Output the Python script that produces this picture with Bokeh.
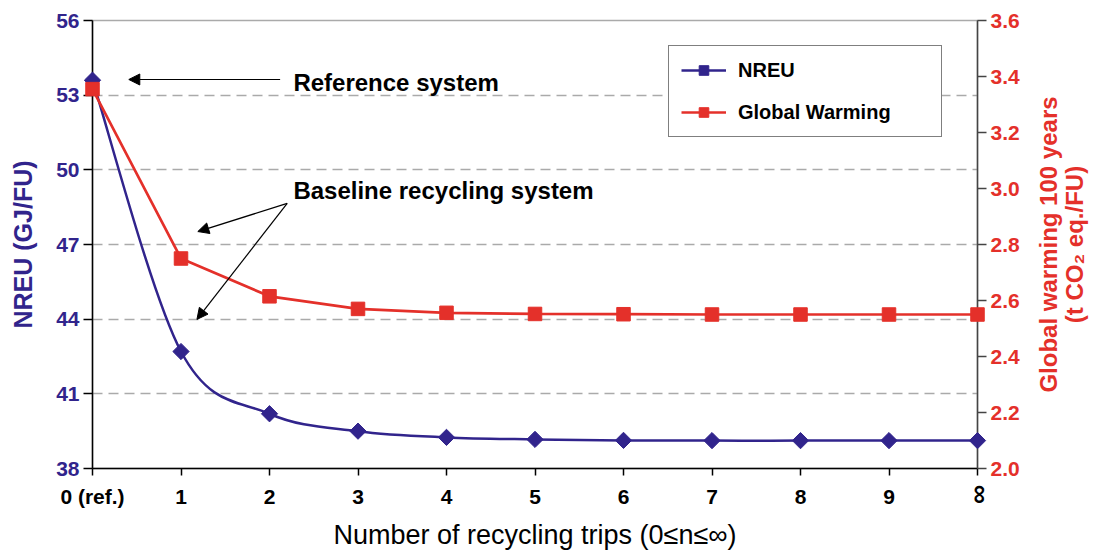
import math
from bokeh.plotting import figure
from bokeh.models import (Range1d, LinearAxis, FixedTicker, Legend, LegendItem,
                          Arrow, NormalHead, Label, NumeralTickFormatter)
from bokeh.core.properties import value
from bokeh.embed import file_html
from bokeh.resources import INLINE

# ---------------- data ----------------
trips = [0, 1, 2, 3, 4, 5, 6, 7, 8, 9, 10]
x_labels = ["0 (ref.)", "1", "2", "3", "4", "5", "6", "7", "8", "9", ""]
inf_label = "∞"
nreu = [53.6, 42.7, 40.2, 39.5, 39.25, 39.17, 39.13, 39.12, 39.12, 39.12, 39.12]
gw = [3.355, 2.75, 2.615, 2.57, 2.556, 2.552, 2.551, 2.55, 2.55, 2.55, 2.55]
left_ticks = [38, 41, 44, 47, 50, 53, 56]
grid_ticks = [41, 44, 47, 50, 53]
right_ticks = [2.0, 2.2, 2.4, 2.6, 2.8, 3.0, 3.2, 3.4, 3.6]
right_title = ["Global warming 100 years", "(t CO₂ eq./FU)"]

BLUE = "#31248c"
RED = "#e4302a"
FONT = "Liberation Sans"


def smooth_segments(xs, ys):
    """Bezier control points for a smoothed (Catmull-Rom style) line through the data."""
    n = len(xs)
    out = dict(x0=[], y0=[], x1=[], y1=[], cx0=[], cy0=[], cx1=[], cy1=[])
    for i in range(n - 1):
        xp, yp = (xs[i - 1], ys[i - 1]) if i > 0 else (xs[i], ys[i])
        xn, yn = (xs[i + 2], ys[i + 2]) if i + 2 < n else (xs[i + 1], ys[i + 1])
        out["x0"].append(xs[i]); out["y0"].append(ys[i])
        out["x1"].append(xs[i + 1]); out["y1"].append(ys[i + 1])
        out["cx0"].append(xs[i] + (xs[i + 1] - xp) / 6.0)
        out["cy0"].append(ys[i] + (ys[i + 1] - yp) / 6.0)
        out["cx1"].append(xs[i + 1] - (xn - xs[i]) / 6.0)
        out["cy1"].append(ys[i + 1] - (yn - ys[i]) / 6.0)
    return out


p = figure(frame_width=885, frame_height=448, output_backend="svg", toolbar_location=None,
           x_range=Range1d(0, 10), y_range=Range1d(38, 56),
           min_border_left=92, min_border_right=114, min_border_top=20, min_border_bottom=70)
p.extra_y_ranges = {"gw": Range1d(2.0, 3.6)}
p.background_fill_color = "white"
p.outline_line_color = "#aaaaaa"
p.outline_line_width = 1.5

# grid
p.xgrid.visible = False
p.ygrid.ticker = FixedTicker(ticks=grid_ticks)
p.ygrid.grid_line_color = "#aaaaaa"
p.ygrid.grid_line_width = 1.5
p.ygrid.grid_line_dash = "10 6"

# x axis
xa = p.xaxis[0]
xa.ticker = FixedTicker(ticks=trips)
xa.major_label_overrides = {t: l for t, l in zip(trips, x_labels)}
xa.axis_label = "Number of recycling trips (0≤n≤∞)"
xa.axis_label_text_font = FONT
xa.axis_label_text_font_style = "normal"
xa.axis_label_text_font_size = "27px"
xa.axis_label_text_color = "black"
xa.axis_label_standoff = 9
xa.major_label_text_font = FONT
xa.major_label_text_font_style = "bold"
xa.major_label_text_font_size = "21px"
xa.major_label_text_color = "black"
xa.major_label_standoff = 9
xa.major_tick_out = 7
xa.major_tick_in = 0
xa.minor_tick_line_color = None
xa.axis_line_width = 1.5
xa.major_tick_line_width = 1.5

# left axis
ya = p.yaxis[0]
ya.ticker = FixedTicker(ticks=left_ticks)
ya.axis_label = "NREU (GJ/FU)"
ya.axis_label_text_font = FONT
ya.axis_label_text_font_style = "bold"
ya.axis_label_text_font_size = "25px"
ya.axis_label_text_color = BLUE
ya.axis_label_standoff = 16
ya.major_label_text_font = FONT
ya.major_label_text_font_style = "bold"
ya.major_label_text_font_size = "21px"
ya.major_label_text_color = BLUE
ya.major_label_standoff = 4
ya.major_tick_out = 9
ya.major_tick_in = 0
ya.minor_tick_line_color = None
ya.axis_line_width = 1.5
ya.major_tick_line_width = 1.5

# right axis
ra = LinearAxis(y_range_name="gw", ticker=FixedTicker(ticks=right_ticks),
                formatter=NumeralTickFormatter(format="0.0"))
ra.major_label_text_font = FONT
ra.major_label_text_font_style = "bold"
ra.major_label_text_font_size = "21px"
ra.major_label_text_color = RED
ra.major_label_standoff = 4
ra.major_tick_out = 9
ra.major_tick_in = 0
ra.minor_tick_line_color = None
ra.axis_line_color = "#444444"
ra.axis_line_width = 1.5
ra.major_tick_line_color = "#444444"
ra.major_tick_line_width = 1.5
p.add_layout(ra, "right")

# right axis title (reads bottom-to-top, two lines) - drawn unclipped at overlay level
p.text(x=[10.80, 11.10], y=[47, 47], text=right_title, angle=math.pi / 2,
       text_align="center", text_baseline="middle", text_font=value(FONT),
       text_font_style="bold", text_font_size="24px", text_color=RED, level="overlay")

# rotated infinity tick label
p.text(x=[10], y=[36.96], text=[inf_label], angle=math.pi / 2, text_align="center",
       text_baseline="middle", text_font=value(FONT), text_font_style="bold",
       text_font_size="27px", text_color="black", level="overlay")

# series
sb = smooth_segments(trips, nreu)
nreu_line = p.bezier(x0=sb["x0"], y0=sb["y0"], x1=sb["x1"], y1=sb["y1"],
                     cx0=sb["cx0"], cy0=sb["cy0"], cx1=sb["cx1"], cy1=sb["cy1"],
                     line_color=BLUE, line_width=2.5)
nreu_pts = p.scatter(trips, nreu, marker="square", angle=math.pi / 4, size=11.5,
                     color=BLUE, level="overlay")

gw_line = p.line(trips, gw, line_color=RED, line_width=2.7, y_range_name="gw")
gw_pts = p.scatter(trips, gw, marker="square", size=13.5, color=RED, y_range_name="gw",
                   level="overlay")

# annotations
p.add_layout(Label(x=2.27, y=53.5, text="Reference system", text_font=FONT,
                   text_font_style="bold", text_font_size="24px", text_color="black",
                   text_baseline="middle"))
p.add_layout(Label(x=2.27, y=49.15, text="Baseline recycling system", text_font=FONT,
                   text_font_style="bold", text_font_size="24px", text_color="black",
                   text_baseline="middle"))
for (xs, ys, xe, ye) in [(2.12, 53.63, 0.41, 53.63),
                         (2.2, 48.65, 1.19, 47.52),
                         (2.2, 48.65, 1.18, 43.99)]:
    p.add_layout(Arrow(x_start=xs, y_start=ys, x_end=xe, y_end=ye,
                       line_color="black", line_width=1.2,
                       end=NormalHead(size=11, fill_color="black", line_color="black")))

# legend
legend = Legend(items=[LegendItem(label="NREU", renderers=[nreu_line, nreu_pts]),
                       LegendItem(label="Global Warming", renderers=[gw_line, gw_pts])],
                location=(576, 331), orientation="vertical",
                border_line_color="black", border_line_width=1.2,
                background_fill_color="white", background_fill_alpha=1.0,
                padding=12, spacing=18, margin=0,
                glyph_width=45, glyph_height=24, label_standoff=12, label_height=24,
                label_width=191,
                label_text_font=FONT, label_text_font_style="bold",
                label_text_font_size="20px", label_text_color="black")
p.add_layout(legend, "center")

open("out.html", "w").write(file_html(p, INLINE))
